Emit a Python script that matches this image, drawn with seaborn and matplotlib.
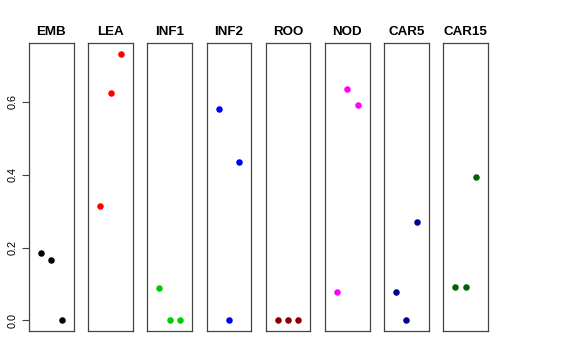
import pandas as pd
import matplotlib
matplotlib.use("Agg")
import matplotlib.pyplot as plt
import seaborn as sns

# tissue groups and their colours
tissues = ["EMB", "LEA", "INF1", "INF2", "ROO", "NOD", "CAR5", "CAR15"]
colors = ["#000000", "#FF0000", "#00CD00", "#0000FF", "#8B0000", "#FF00FF", "#00008B", "#006400"]

# three values per tissue (replicates 1..3)
replicate = [1, 2, 3]
emb = [0.185, 0.165, 0.0]
lea = [0.313, 0.626, 0.732]
inf1 = [0.088, 0.0, 0.0]
inf2 = [0.581, 0.0, 0.434]
roo = [0.0, 0.0, 0.0]
nod = [0.078, 0.637, 0.593]
car5 = [0.078, 0.0, 0.269]
car15 = [0.091, 0.091, 0.393]

values = [emb, lea, inf1, inf2, roo, nod, car5, car15]
yticks = [0.0, 0.2, 0.4, 0.6]

rows = []
for t, vals in zip(tissues, values):
    for r, v in zip(replicate, vals):
        rows.append({"tissue": t, "rep": r, "value": v})
df = pd.DataFrame(rows)

sns.set_style("white")
plt.rcParams["font.family"] = ["Liberation Sans", "DejaVu Sans"]
plt.rcParams["text.color"] = "black"
plt.rcParams["ytick.color"] = "black"
plt.rcParams["axes.labelcolor"] = "black"

fig, axes = plt.subplots(1, 8, figsize=(5.76, 3.6), dpi=100, sharey=True)
fig.subplots_adjust(left=29 / 576, right=488 / 576, top=1 - 43.3 / 360,
                    bottom=1 - 331 / 360, wspace=0.324)

ymax = df["value"].max()
for i, (ax, t, c) in enumerate(zip(axes, tissues, colors)):
    sub = df[df["tissue"] == t]
    sns.scatterplot(data=sub, x="rep", y="value", color=c, s=22,
                    linewidth=0, ax=ax, legend=False)
    ax.set_xlim(2 - 2.165, 2 + 2.165)
    ax.set_ylim(-0.04 * ymax, ymax * 1.04)
    ax.set_title(t, fontsize=9.6, fontweight="bold", pad=6, color="black")
    ax.set_xlabel("")
    ax.set_ylabel("")
    ax.set_xticks([])
    for sp in ax.spines.values():
        sp.set_color("#444444")
        sp.set_linewidth(0.9)
    if i == 0:
        ax.set_yticks(yticks)
        ax.set_yticklabels([f"{y:.1f}" for y in yticks], rotation=90,
                           va="center", fontsize=7.8, color="black")
        ax.tick_params(axis="y", left=True, length=5, width=0.8,
                       color="#444444", pad=3)
    else:
        ax.tick_params(axis="y", left=False, labelleft=False)

fig.savefig("out.png", dpi=100)
